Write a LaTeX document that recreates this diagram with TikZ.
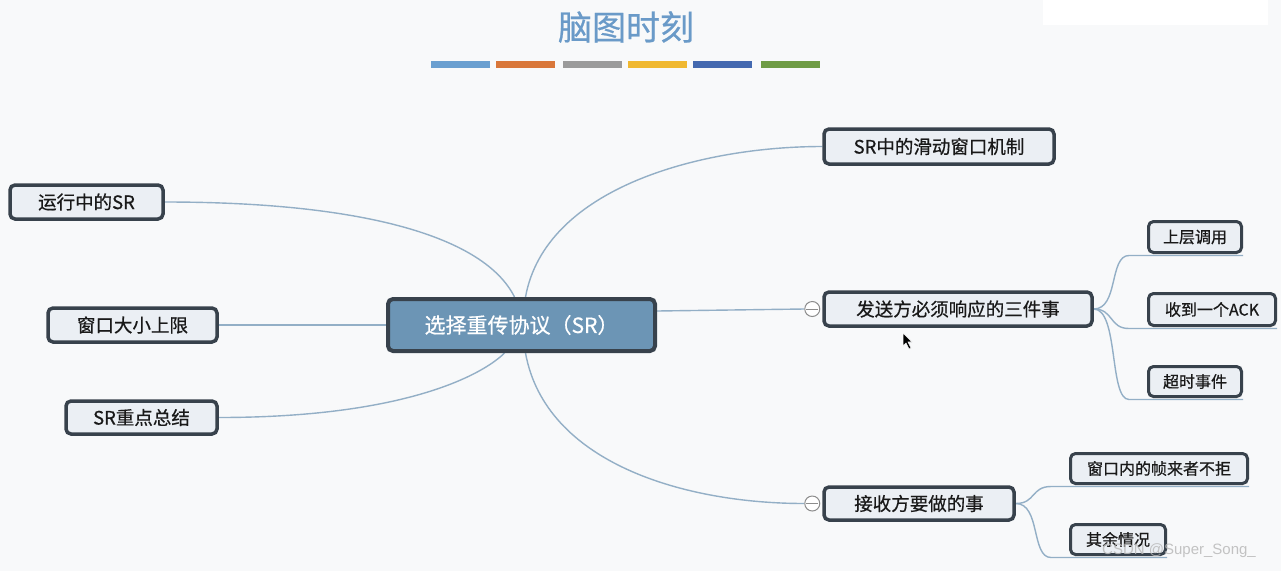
\documentclass[tikz,border=0pt]{standalone}
\usepackage{fontspec}
\setmainfont{Noto Sans CJK SC}
\newfontfamily\nodefont{Noto Sans CJK SC}[FakeBold=0.6]
\newfontfamily\wmfont{Liberation Sans}
\usetikzlibrary{calc}
\pgfdeclarelayer{bg}
\pgfdeclarelayer{lines}
\pgfsetlayers{bg,lines,main}
\definecolor{bgc}{HTML}{F8F9FA}
\definecolor{nodefill}{HTML}{EBEFF4}
\definecolor{nodeborder}{HTML}{38424C}
\definecolor{centerfill}{HTML}{6C95B5}
\definecolor{conncol}{HTML}{93AFC6}
\definecolor{titlecol}{HTML}{6A9AC8}
\definecolor{barA}{HTML}{6A9FD0}
\definecolor{barB}{HTML}{D9773A}
\definecolor{barC}{HTML}{9B9B9B}
\definecolor{barD}{HTML}{F0B830}
\definecolor{barE}{HTML}{4469B0}
\definecolor{barF}{HTML}{6F9C45}
\tikzset{
  topic/.style={draw=nodeborder, fill=nodefill, line width=3.5pt, rounded corners=5pt,
    inner sep=0pt, text=black!90, font=\nodefont\fontsize{18.5}{20}\selectfont},
  subtopic/.style={topic, line width=3pt, font=\nodefont\fontsize{16}{18}\selectfont},
  centraltopic/.style={topic, fill=centerfill, line width=4pt, text=white,
    font=\nodefont\fontsize{21}{24}\selectfont},
  conn/.style={draw=conncol, line width=1.4pt},
  collapser/.style={circle, draw=black!45, fill=white, line width=1pt, minimum size=15pt, inner sep=0pt}
}
\begin{document}
\begin{tikzpicture}[x=1pt,y=-1pt]
\begin{pgfonlayer}{bg}
\fill[bgc] (0,0) rectangle (1281,571);
\fill[white] (1043,0) rectangle (1268,25);
\end{pgfonlayer}
\useasboundingbox (0,0) rectangle (1281,571);

% title
\node[text=titlecol, font=\nodefont\fontsize{34}{36}\selectfont, inner sep=0pt] (title) at (626,27) {脑图时刻};
\fill[barA] (431,61) rectangle (490,68);
\fill[barB] (496,61) rectangle (555,68);
\fill[barC] (563,61) rectangle (622,68);
\fill[barD] (628,61) rectangle (687,68);
\fill[barE] (693,61) rectangle (752,68);
\fill[barF] (761,61) rectangle (820,68);

% nodes
\node[centraltopic, minimum width=267pt, minimum height=52pt] (ctr) at (521.5,325) {选择重传协议（SR）};
\node[topic, minimum width=230pt, minimum height=35pt] (slide) at (939,146.5) {SR中的滑动窗口机制};
\node[topic, minimum width=268pt, minimum height=34pt] (snd) at (958,309) {发送方必须响应的三件事};
\node[topic, minimum width=190pt, minimum height=33pt] (rcv) at (919,503.5) {接收方要做的事};
\node[subtopic, minimum width=93pt, minimum height=31pt] (s1) at (1195,237) {上层调用};
\node[subtopic, minimum width=127pt, minimum height=32pt] (s2) at (1212,309.5) {收到一个ACK};
\node[subtopic, minimum width=93pt, minimum height=30pt] (s3) at (1195,381.5) {超时事件};
\node[subtopic, minimum width=177pt, minimum height=30pt] (r1) at (1159,468.5) {窗口内的帧来者不拒};
\node[subtopic, minimum width=95pt, minimum height=30pt] (r2) at (1118,539.5) {其余情况};
\node[topic, minimum width=153pt, minimum height=34pt] (run) at (86.5,202) {运行中的SR};
\node[topic, minimum width=169pt, minimum height=34pt] (win) at (132.5,325) {窗口大小上限};
\node[topic, minimum width=151pt, minimum height=33pt] (sum) at (141.5,417.5) {SR重点总结};

\node[collapser] (m1) at ($(snd.west)+(-10,0)$) {};
\draw[black!45, line width=1pt] ($(m1.west)+(2,0)$) -- ($(m1.east)+(-2,0)$);
\node[collapser] (m2) at ($(rcv.west)+(-10,0)$) {};
\draw[black!45, line width=1pt] ($(m2.west)+(2,0)$) -- ($(m2.east)+(-2,0)$);

\coordinate (cTopL) at ($(ctr.north)+(-7,0)$);
\coordinate (cTopR) at ($(ctr.north)+(4,0)$);
\coordinate (cBotL) at ($(ctr.south)+(-17,0)$);
\coordinate (cBotR) at ($(ctr.south)+(4,0)$);

\begin{pgfonlayer}{lines}
% left side
\draw[conn] (run.east) .. controls +(200,0) and +(-30,-60) .. (cTopL);
\draw[conn] (win.east) -- (ctr.west);
\draw[conn] (sum.east) .. controls +(190,0) and +(-20,20) .. (cBotL);
% right side
\draw[conn] (cTopR) .. controls +(20,-110) and +(-120,0) .. (slide.west);
\draw[conn] ($(ctr.east)+(0,-14)$) -- (m1.west);
\draw[conn] (cBotR) .. controls +(20,110) and +(-120,0) .. (m2.west);
% sender children
\draw[conn] (snd.east) .. controls +(25,0) and +(-20,0) .. ($(s1.south west)+(-18,1.5)$) -- ($(s1.south east)+(0,1.5)$);
\draw[conn] (snd.east) .. controls +(20,0) and +(-20,0) .. ($(s2.south west)+(-18,1.5)$) -- ($(s2.south east)+(0,1.5)$);
\draw[conn] (snd.east) .. controls +(25,0) and +(-20,0) .. ($(s3.south west)+(-18,1.5)$) -- ($(s3.south east)+(0,1.5)$);
% receiver children
\draw[conn] (rcv.east) .. controls +(20,0) and +(-20,0) .. ($(r1.south west)+(-18,1.5)$) -- ($(r1.south east)+(0,1.5)$);
\draw[conn] (rcv.east) .. controls +(25,0) and +(-20,0) .. ($(r2.south west)+(-18,1.5)$) -- ($(r2.south east)+(0,1.5)$);
\end{pgfonlayer}

% mouse cursor
\filldraw[fill=black, draw=white, line width=0.6pt] (903,333) -- (903,346) -- (906,343) -- (909,349) -- (911,348) -- (908,342) -- (912,342) -- cycle;

% watermark
\node[anchor=west, inner sep=0pt, text=gray!55, opacity=0.85, font=\wmfont\fontsize{15}{16}\selectfont] (wm) at (1102,551) {CSDN @Super\_Song\_};
\end{tikzpicture}
\end{document}
